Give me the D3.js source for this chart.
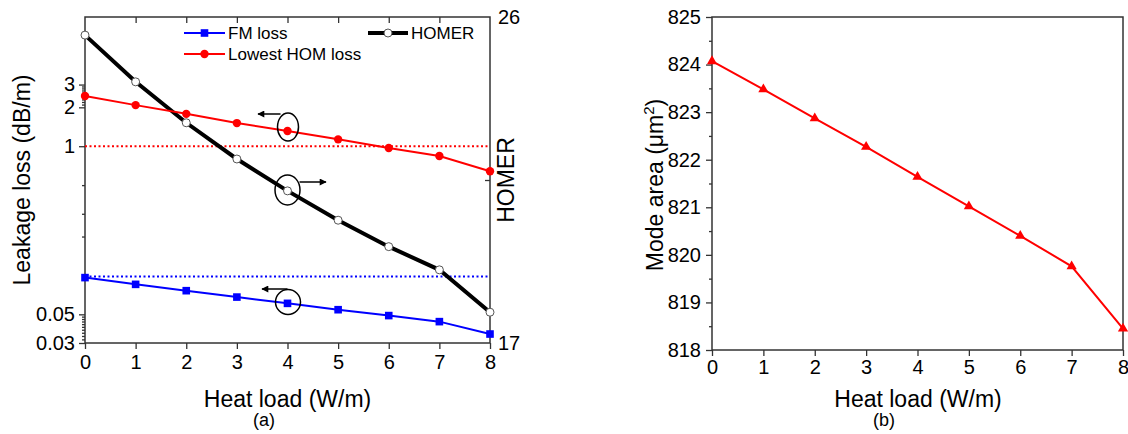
<!DOCTYPE html>
<html><head><meta charset="utf-8">
<script src="https://cdn.jsdelivr.net/npm/d3@7"></script>
<style>
body{margin:0;background:#fff;}
text{font-family:"Liberation Sans",Arial,sans-serif;fill:#000;}
</style></head>
<body><svg id="c" width="1128" height="434"></svg>
<script>
// ---- data ----
const heatLoad = [0,1,2,3,4,5,6,7,8];
const fmLoss = [0.0962,0.0853,0.0762,0.0680,0.0608,0.0543,0.0489,0.0439,0.0352];
const homLoss = [2.45,2.08,1.78,1.51,1.31,1.13,0.97,0.84,0.64];
const homer = [25.5,24.21,23.08,22.08,21.20,20.39,19.66,19.02,17.85];
const modeArea = [824.07,823.48,822.87,822.27,821.64,821.02,820.40,819.76,818.45];
const lossThresholds = [1, 0.098];
const lossMajorTicks = [0.03,0.05,1,2,3];
const lossMinorTicks = [0.032,0.034,0.036,0.038,0.04,0.042,0.044,0.046,0.048,0.1,0.2,0.3,0.5,2.1,2.2,2.3,2.4,2.5,2.6,2.7,2.8,2.9];
const homerTicks = [17,26];
const homerMinor = [21.5];
const xTicks = [0,1,2,3,4,5,6,7,8];
const areaTicks = [818,819,820,821,822,823,824,825];
const areaMinor = [818.5,819.5,820.5,821.5,822.5,823.5,824.5];

const svg = d3.select("#c");
const AX = "#333";
const FS = 20;

// ---------- Panel (a) ----------
const xA = d3.scaleLinear().domain([0,8]).range([85,490]);
const yL = d3.scaleLog().domain([0.03,10]).range([343,17]);
const yH = d3.scaleLinear().domain([17,26]).range([343,17]);
const gA = svg.append("g");

function styleAxis(g){
  g.selectAll(".domain").remove();
  g.selectAll(".tick line").attr("stroke",AX).attr("stroke-width",1.3);
  g.selectAll(".tick text").style("font-size",FS+"px").attr("fill","#000");
}
// bottom axis
gA.append("g").attr("transform","translate(0,343)")
  .call(d3.axisBottom(xA).tickValues(xTicks).tickSize(6).tickPadding(6).tickFormat(d3.format("d")))
  .call(styleAxis);
// top mirror ticks inward
gA.append("g").attr("transform","translate(0,17)")
  .call(d3.axisBottom(xA).tickValues(xTicks.slice(1,-1)).tickSize(6).tickFormat(""))
  .call(styleAxis);
// left log axis
gA.append("g").attr("transform","translate(85,0)")
  .call(d3.axisLeft(yL).tickValues(lossMajorTicks).tickSize(6).tickPadding(4).tickFormat(d=>String(d)))
  .call(styleAxis);
gA.append("g").attr("transform","translate(85,0)")
  .call(d3.axisLeft(yL).tickValues(lossMinorTicks).tickSize(3).tickFormat(""))
  .call(styleAxis);
// right HOMER axis
gA.append("g").attr("transform","translate(490,0)")
  .call(d3.axisRight(yH).tickValues(homerTicks).tickSize(0).tickPadding(8).tickFormat(d3.format("d")))
  .call(styleAxis);
gA.append("g").attr("transform","translate(490,0)")
  .call(d3.axisLeft(yH).tickValues(homerMinor).tickSize(5).tickFormat(""))
  .call(styleAxis);
// frame
gA.append("rect").attr("x",85).attr("y",17).attr("width",405).attr("height",326)
  .attr("fill","none").attr("stroke",AX).attr("stroke-width",1.5);

// thresholds (dotted)
const thrColors = ["#ff0000","#0000ff"];
lossThresholds.forEach((t,i)=>{
  gA.append("line").attr("x1",xA(0)).attr("x2",xA(8)).attr("y1",yL(t)).attr("y2",yL(t))
    .attr("stroke",thrColors[i]).attr("stroke-width",2).attr("stroke-dasharray","2,2.5");
});

const lineL = arr => d3.line().x((d,i)=>xA(heatLoad[i])).y(d=>yL(d))(arr);
// HOMER line
gA.append("path").attr("d",d3.line().x((d,i)=>xA(heatLoad[i])).y(d=>yH(d))(homer))
  .attr("fill","none").attr("stroke","#000").attr("stroke-width",4);
gA.selectAll(".hm").data(homer).enter().append("circle")
  .attr("cx",(d,i)=>xA(heatLoad[i])).attr("cy",d=>yH(d)).attr("r",4)
  .attr("fill","#fff").attr("stroke","#555").attr("stroke-width",1);
// HOM loss
gA.append("path").attr("d",lineL(homLoss)).attr("fill","none").attr("stroke","#ff0000").attr("stroke-width",2);
gA.selectAll(".hl").data(homLoss).enter().append("circle")
  .attr("cx",(d,i)=>xA(heatLoad[i])).attr("cy",d=>yL(d)).attr("r",4.2).attr("fill","#ff0000");
// FM loss
gA.append("path").attr("d",lineL(fmLoss)).attr("fill","none").attr("stroke","#0000ff").attr("stroke-width",2);
gA.selectAll(".fl").data(fmLoss).enter().append("rect")
  .attr("x",(d,i)=>xA(heatLoad[i])-3.8).attr("y",d=>yL(d)-3.8).attr("width",7.6).attr("height",7.6).attr("fill","#0000ff");

// annotations: ellipses + arrows
const defs = svg.append("defs");
defs.append("marker").attr("id","ah").attr("viewBox","0 0 10 10").attr("refX",9).attr("refY",5)
  .attr("markerWidth",9).attr("markerHeight",7).attr("orient","auto").attr("markerUnits","userSpaceOnUse")
  .append("path").attr("d","M0,0L10,5L0,10Z").attr("fill","#000");
function annot(cx,cy,rx,ry,x1,x2,ay){
  gA.append("ellipse").attr("cx",cx).attr("cy",cy).attr("rx",rx).attr("ry",ry)
    .attr("fill","none").attr("stroke","#000").attr("stroke-width",1.5);
  gA.append("line").attr("x1",x1).attr("x2",x2).attr("y1",ay).attr("y2",ay)
    .attr("stroke","#000").attr("stroke-width",1.5).attr("marker-end","url(#ah)");
}
annot(xA(4)+0.5,127,10.5,14,xA(4)-7,258,114);
annot(xA(4),190,12.5,15,xA(4)+12,326,182);
annot(xA(4)+0.5,302,12.5,12.5,xA(4),262,289);

// legend
const lg = gA.append("g");
function legItem(x1,x2,y,color,w,shape,label){
  lg.append("line").attr("x1",x1).attr("x2",x2).attr("y1",y).attr("y2",y).attr("stroke",color).attr("stroke-width",w);
  const mx=(x1+x2)/2;
  if(shape==="sq") lg.append("rect").attr("x",mx-3.8).attr("y",y-3.8).attr("width",7.6).attr("height",7.6).attr("fill",color);
  if(shape==="c") lg.append("circle").attr("cx",mx).attr("cy",y).attr("r",4.2).attr("fill",color);
  if(shape==="o") lg.append("circle").attr("cx",mx).attr("cy",y).attr("r",4).attr("fill","#fff").attr("stroke","#555");
  lg.append("text").attr("x",x2+3).attr("y",y).attr("dy","0.35em").style("font-size","17px").text(label);
}
legItem(184,225,33,"#0000ff",2,"sq","FM loss");
legItem(184,225,54,"#ff0000",2,"c","Lowest HOM loss");
legItem(368,408,33,"#000",4,"o","HOMER");

// axis titles
gA.append("text").attr("transform","translate(30,180) rotate(-90)").attr("text-anchor","middle")
  .style("font-size","23px").text("Leakage loss (dB/m)");
gA.append("text").attr("transform","translate(514,180) rotate(-90)").attr("text-anchor","middle")
  .style("font-size","23px").text("HOMER");
gA.append("text").attr("x",287.5).attr("y",407).attr("text-anchor","middle").style("font-size","23px").text("Heat load (W/m)");
gA.append("text").attr("x",264).attr("y",426).attr("text-anchor","middle").style("font-size","18px").text("(a)");

// ---------- Panel (b) ----------
const xB = d3.scaleLinear().domain([0,8]).range([712,1123]);
const yB = d3.scaleLinear().domain([818,825]).range([350,17]);
const gB = svg.append("g");
gB.append("g").attr("transform","translate(0,350)")
  .call(d3.axisBottom(xB).tickValues(xTicks).tickSize(6).tickPadding(4).tickFormat(d3.format("d")))
  .call(styleAxis);
gB.append("g").attr("transform","translate(712,0)")
  .call(d3.axisLeft(yB).tickValues(areaTicks).tickSize(6).tickPadding(5).tickFormat(d3.format("d")))
  .call(styleAxis);
gB.append("g").attr("transform","translate(712,0)")
  .call(d3.axisLeft(yB).tickValues(areaMinor).tickSize(3).tickFormat(""))
  .call(styleAxis);
gB.append("rect").attr("x",712).attr("y",17).attr("width",411).attr("height",333)
  .attr("fill","none").attr("stroke",AX).attr("stroke-width",1.5);
gB.append("path").attr("d",d3.line().x((d,i)=>xB(heatLoad[i])).y(d=>yB(d))(modeArea))
  .attr("fill","none").attr("stroke","#ff0000").attr("stroke-width",2);
const tri = d3.symbol().type(d3.symbolTriangle).size(45);
gB.selectAll(".tr").data(modeArea).enter().append("path")
  .attr("d",tri).attr("transform",(d,i)=>`translate(${xB(heatLoad[i])},${yB(d)})`).attr("fill","#ff0000");

const yt = gB.append("text").attr("transform","translate(663,185) rotate(-90)").attr("text-anchor","middle")
  .style("font-size","23px");
yt.append("tspan").text("Mode area (μm");
yt.append("tspan").attr("dy",-9).style("font-size","15px").text("2");
yt.append("tspan").attr("dy",9).text(")");
gB.append("text").attr("x",918).attr("y",407).attr("text-anchor","middle").style("font-size","23px").text("Heat load (W/m)");
gB.append("text").attr("x",884).attr("y",426).attr("text-anchor","middle").style("font-size","18px").text("(b)");
</script></body></html>
